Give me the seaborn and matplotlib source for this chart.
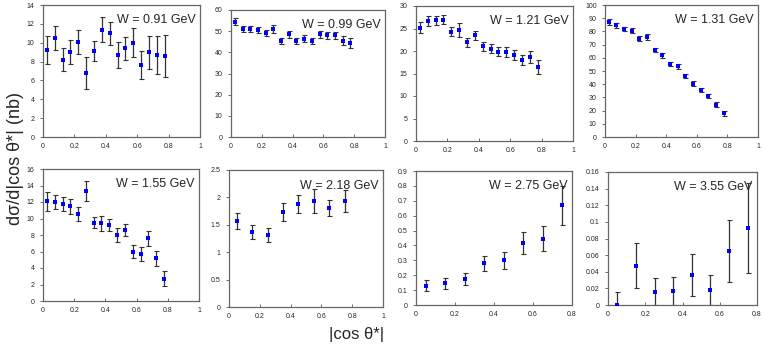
import matplotlib
matplotlib.use("Agg")
import matplotlib.pyplot as plt
import seaborn as sns

# |cos theta*| bin centres
cos_fine = [0.025, 0.075, 0.125, 0.175, 0.225, 0.275, 0.325, 0.375,
            0.425, 0.475, 0.525, 0.575, 0.625, 0.675, 0.725, 0.775]
cos_coarse = [0.05, 0.15, 0.25, 0.35, 0.45, 0.55, 0.65, 0.75]

w_labels = ["W = 0.91 GeV", "W = 0.99 GeV", "W = 1.21 GeV", "W = 1.31 GeV",
            "W = 1.55 GeV", "W = 2.18 GeV", "W = 2.75 GeV", "W = 3.55 GeV"]

xs_091 = [9.2, 10.5, 8.2, 9.0, 10.1, 6.8, 9.1, 11.4, 11.0, 8.7, 9.4, 10.0, 7.6, 9.0, 8.7, 8.6]
err_091 = [1.5, 1.3, 1.2, 1.25, 1.25, 1.7, 1.05, 1.35, 1.2, 1.35, 1.2, 1.55, 1.5, 1.75, 2.0, 2.25]

xs_099 = [54.5, 51.0, 51.0, 50.5, 49.0, 51.0, 45.5, 48.5, 45.5, 46.5, 45.5, 48.5, 48.0, 48.0, 45.5, 44.5]
err_099 = [1.8, 1.5, 1.5, 1.5, 1.5, 1.8, 1.5, 1.8, 1.5, 1.5, 1.5, 1.8, 1.8, 1.8, 2.0, 2.5]

xs_121 = [25.2, 26.6, 26.8, 27.0, 24.3, 24.7, 21.9, 23.5, 21.1, 20.5, 19.8, 19.8, 19.1, 18.0, 18.7, 16.4]
err_121 = [1.15, 1.1, 1.0, 1.0, 1.0, 1.5, 0.9, 1.0, 1.0, 1.0, 1.0, 1.2, 1.1, 1.2, 1.35, 1.5]

xs_131 = [87.0, 84.5, 82.0, 80.5, 74.5, 76.0, 66.0, 62.0, 55.5, 53.5, 46.5, 40.5, 35.5, 31.0, 24.5, 18.0]
err_131 = [2.2, 1.8, 1.5, 1.8, 1.8, 2.2, 1.5, 1.8, 1.5, 1.8, 1.5, 1.8, 1.5, 1.8, 1.8, 1.8]

xs_155 = [12.1, 12.0, 11.7, 11.5, 10.6, 13.3, 9.5, 9.4, 9.2, 8.0, 8.6, 6.0, 5.7, 7.6, 5.2, 2.7]
err_155 = [1.15, 0.8, 0.85, 0.9, 0.85, 1.2, 0.7, 0.87, 0.77, 0.8, 0.77, 0.8, 0.85, 0.9, 0.9, 0.9]

xs_218 = [1.57, 1.37, 1.31, 1.73, 1.88, 1.93, 1.81, 1.93]
err_218 = [0.15, 0.13, 0.13, 0.16, 0.16, 0.22, 0.15, 0.2]

xs_275 = [0.13, 0.145, 0.175, 0.28, 0.30, 0.415, 0.445, 0.67]
err_275 = [0.035, 0.037, 0.04, 0.05, 0.055, 0.073, 0.085, 0.13]

xs_355 = [0.0, 0.047, 0.016, 0.017, 0.036, 0.018, 0.065, 0.093]
err_355 = [0.016, 0.027, 0.016, 0.017, 0.0255, 0.018, 0.0375, 0.054]

panels = [
    (cos_fine, xs_091, err_091, (0, 14), 2, (0, 1)),
    (cos_fine, xs_099, err_099, (0, 60), 10, (0, 1)),
    (cos_fine, xs_121, err_121, (0, 30), 5, (0, 1)),
    (cos_fine, xs_131, err_131, (0, 100), 10, (0, 1)),
    (cos_fine, xs_155, err_155, (0, 16), 2, (0, 1)),
    (cos_coarse, xs_218, err_218, (0, 2.5), 0.5, (0, 1)),
    (cos_coarse, xs_275, err_275, (0, 0.9), 0.1, (0, 0.8)),
    (cos_coarse, xs_355, err_355, (0, 0.16), 0.02, (0, 0.8)),
]

# axes boxes in pixels: left, right, top, bottom
boxes = [(43, 200, 5, 137), (231, 385, 10, 137), (416, 573, 6, 141), (605, 758, 5, 137),
         (43, 199, 169, 301), (229, 383, 170, 307), (416, 572, 171, 305), (608, 757, 172, 305)]

sns.set_style("ticks")
plt.rcParams["font.family"] = ["Liberation Sans", "DejaVu Sans"]

W, H = 763, 348
fig = plt.figure(figsize=(W / 100, H / 100), dpi=100)

for (x, y, e, ylim, ystep, xlim), (l, r, t, b), lab in zip(panels, boxes, w_labels):
    ax = fig.add_axes([l / W, 1 - b / H, (r - l) / W, (b - t) / H])
    ax.errorbar(x, y, yerr=e, fmt="none", ecolor="#333333", elinewidth=0.9,
                capsize=1.8, capthick=0.8, zorder=2)
    sns.scatterplot(x=x, y=y, ax=ax, marker="s", color="#0000ff", s=9,
                    edgecolor="#0000ff", linewidth=0, zorder=3)
    ax.set_xlim(*xlim)
    ax.set_ylim(*ylim)
    n = int(round((ylim[1] - ylim[0]) / ystep))
    yt = [round(ylim[0] + i * ystep, 4) for i in range(n + 1)]
    ax.set_yticks(yt)
    ax.set_yticklabels([f"{v:g}" for v in yt])
    xt = [0, 0.2, 0.4, 0.6, 0.8] + ([1] if xlim[1] == 1 else [])
    ax.set_xticks(xt)
    ax.set_xticklabels([f"{v:g}" for v in xt])
    ax.tick_params(axis="both", labelsize=5, length=2, width=0.6, color="#555555", pad=4)
    ax.tick_params(axis="x", direction="in")
    ax.tick_params(axis="y", direction="out")
    for s in ax.spines.values():
        s.set_visible(True)
        s.set_color("#666666")
        s.set_linewidth(0.9)
    ax.text(0.97, 0.93, lab, transform=ax.transAxes, ha="right", va="top", fontsize=9)

fig.text(16 / W, 1 - 158 / H, "dσ/d|cos θ*| (nb)", rotation=90, ha="center", va="center", fontsize=13)
fig.text(357 / W, 1 - 334 / H, "|cos θ*|", ha="center", va="center", fontsize=12)

fig.savefig("out.png", dpi=100)
